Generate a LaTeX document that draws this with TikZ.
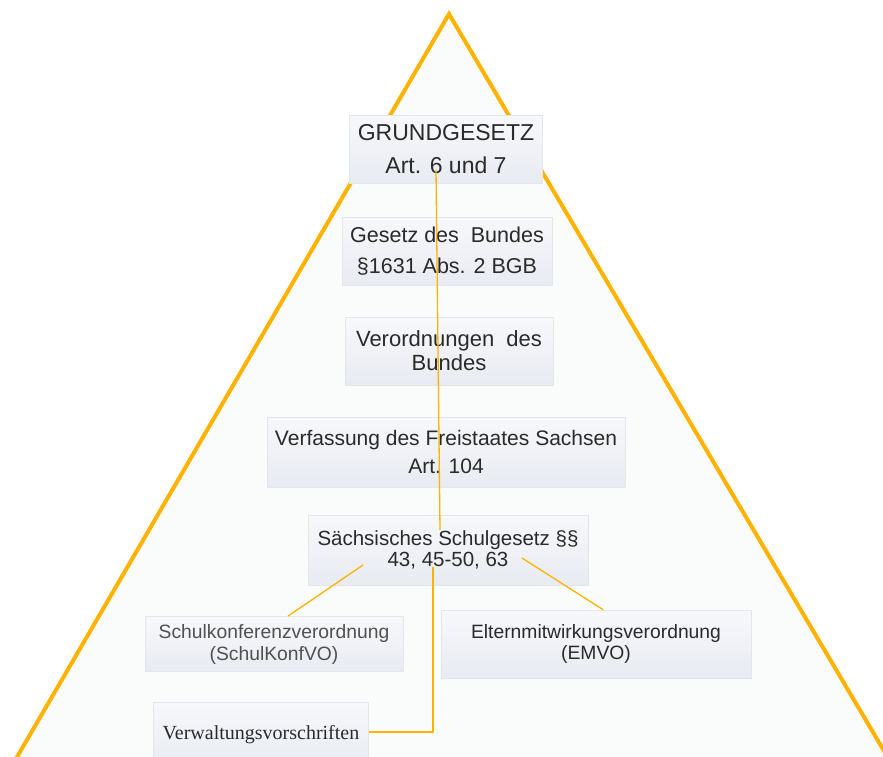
\documentclass[tikz,border=0pt]{standalone}
\usepackage{fontspec}
\setmainfont{Liberation Sans}
\newfontfamily\vvfont{Liberation Serif}
\definecolor{amber}{HTML}{FFB300}
\definecolor{mint}{HTML}{F9FCFA}
\definecolor{boxtop}{HTML}{F7F8FB}
\definecolor{boxbot}{HTML}{E8EBF2}
\definecolor{boxline}{HTML}{E3E7ED}
\definecolor{ink}{HTML}{2A2A2A}
\definecolor{softink}{HTML}{505050}

\begin{document}
\begin{tikzpicture}[x=1pt,y=-1pt,
    box/.style={draw=boxline,line width=0.8pt,top color=boxtop,bottom color=boxbot,
      text=ink,align=center,inner sep=0pt},
    link/.style={draw=amber,line width=1.3pt}]
    \useasboundingbox (0,0) rectangle (883,756);
    \clip (0,0) rectangle (883,756);
    \fill[white] (0,0) rectangle (883,756);
    % pyramid
    \draw[amber,line width=4pt,fill=mint] (-8,800) -- (449,14) -- (913,800);
    \node[box,minimum width=193pt,minimum height=68pt,font=\fontsize{23}{33}\selectfont]
      (gg) at (446,149) {GRUNDGESETZ\\Art. 6 und 7};
    \node[box,minimum width=210pt,minimum height=68pt,font=\fontsize{21.5}{31}\selectfont]
      (bund) at (447,251) {Gesetz des~ Bundes\\§1631 Abs. 2 BGB};
    \node[box,minimum width=208pt,minimum height=68pt,font=\fontsize{22}{24}\selectfont]
      (vo) at (449,351) {Verordnungen~ des\\Bundes};
    \node[box,minimum width=358pt,minimum height=70pt,font=\fontsize{21}{28}\selectfont]
      (verf) at (446,452) {Verfassung des Freistaates Sachsen\\Art. 104};
    \node[box,minimum width=280pt,minimum height=70pt,font=\fontsize{20.5}{21}\selectfont]
      (sg) at (448,550) {Sächsisches Schulgesetz §§\\43, 45-50, 63};
    \node[box,minimum width=258pt,minimum height=55pt,font=\fontsize{19.3}{22}\selectfont,text=softink]
      (skv) at (274,644) {Schulkonferenzverordnung\\(SchulKonfVO)};
    \node[box,minimum width=310pt,minimum height=68pt,font=\fontsize{19.3}{21}\selectfont]
      (emvo) at (596,644) {Elternmitwirkungsverordnung\\(EMVO)};
    \node[box,minimum width=215pt,minimum height=66pt,font=\vvfont\fontsize{20}{24}\selectfont]
      (vv) at (261,735) {Verwaltungsvorschriften};
    % connectors
    \draw[link] ([shift={(-10,21)}]gg.center) -- ([shift={(-8,-20)}]sg.center);
    \draw[link] ([shift={(-15,17)}]sg.center) |- ([yshift=3pt]vv.east);
    \draw[link] ([shift={(-85,15)}]sg.center) -- ([xshift=14pt]skv.north);
    \draw[link] ([shift={(74,8)}]sg.center) -- ([xshift=7pt]emvo.north);
  \end{tikzpicture}
\end{document}
